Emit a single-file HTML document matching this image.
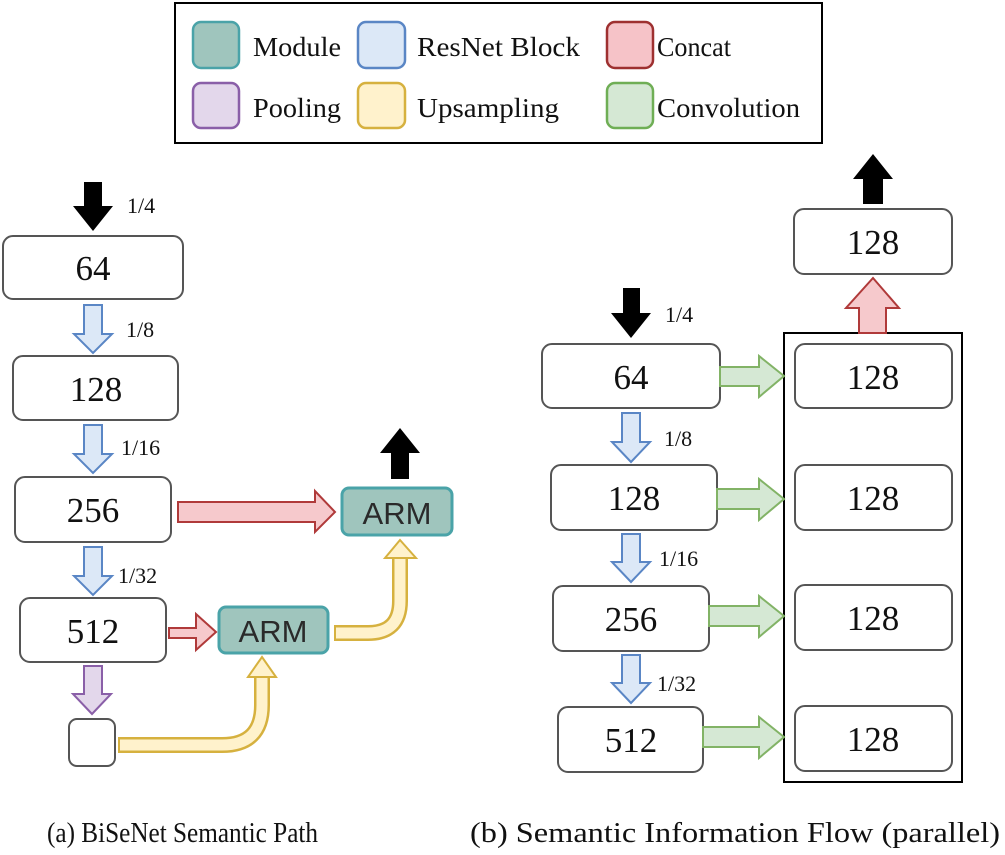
<!DOCTYPE html>
<html><head><meta charset="utf-8"><style>
html,body{margin:0;padding:0;background:#fff;}
svg{display:block;}
.serif{font-family:"Liberation Serif",serif;fill:#111;}
.sans{font-family:"Liberation Sans",sans-serif;fill:#2a2a2a;}
</style></head><body>
<svg width="1005" height="855" viewBox="0 0 1005 855" xmlns="http://www.w3.org/2000/svg">
<!-- Legend -->
<rect x="175" y="3" width="647" height="140" fill="#fff" stroke="#000" stroke-width="2"/>
<g stroke-width="2.5">
<rect x="193" y="22" width="46" height="46" rx="8" fill="#9fc5bd" stroke="#4aa3a8"/>
<rect x="358" y="22" width="47" height="46" rx="8" fill="#dce8f7" stroke="#5a86c5"/>
<rect x="607" y="22" width="46" height="46" rx="8" fill="#f6c3c8" stroke="#9e3030"/>
<rect x="193" y="83" width="46" height="45" rx="8" fill="#e3d7eb" stroke="#8a5fa8"/>
<rect x="358" y="83" width="47" height="45" rx="8" fill="#fff2cc" stroke="#d6b13f"/>
<rect x="607" y="83" width="46" height="45" rx="8" fill="#d5e8d4" stroke="#6fae55"/>
</g>
<g class="serif" font-size="27">
<text x="253" y="56" textLength="88" lengthAdjust="spacingAndGlyphs">Module</text>
<text x="417" y="56" textLength="163" lengthAdjust="spacingAndGlyphs">ResNet Block</text>
<text x="657" y="56" textLength="74" lengthAdjust="spacingAndGlyphs">Concat</text>
<text x="253" y="117" textLength="88" lengthAdjust="spacingAndGlyphs">Pooling</text>
<text x="417" y="117" textLength="142" lengthAdjust="spacingAndGlyphs">Upsampling</text>
<text x="657" y="117" textLength="143" lengthAdjust="spacingAndGlyphs">Convolution</text>
</g>

<!-- LEFT -->
<polygon points="84,182 102,182 102,206 113,206 93,231 73,206 84,206" fill="#000"/>
<text class="serif" x="127" y="213" font-size="22">1/4</text>
<g fill="#fff" stroke="#555" stroke-width="2">
<rect x="3" y="236" width="180" height="63" rx="10"/>
<rect x="13" y="356" width="165" height="64" rx="10"/>
<rect x="15" y="477" width="156" height="65" rx="10"/>
<rect x="20" y="598" width="146" height="64" rx="10"/>
<rect x="69" y="719" width="46" height="47" rx="8"/>
</g>
<g class="serif" font-size="35" text-anchor="middle">
<text x="93" y="280">64</text>
<text x="96" y="401">128</text>
<text x="93" y="522">256</text>
<text x="93" y="643">512</text>
</g>
<g fill="#dce8f7" stroke="#5a86c5" stroke-width="2">
<polygon points="84,305 102,305 102,334 112,334 93,353 74,334 84,334"/>
<polygon points="84,425 102,425 102,454 112,454 93,473 74,454 84,454"/>
<polygon points="84,547 102,547 102,576 112,576 93,595 74,576 84,576"/>
</g>
<polygon points="84,666 102,666 102,694 111,694 92,714 73,694 84,694" fill="#e3d7eb" stroke="#8a5fa8" stroke-width="2"/>
<g class="serif" font-size="22">
<text x="126" y="337">1/8</text>
<text x="121" y="455">1/16</text>
<text x="118" y="583">1/32</text>
</g>
<!-- red arrows -->
<g fill="#f6c9cc" stroke="#b03a3a" stroke-width="2">
<polygon points="178,502 315,502 315,491 335,512 315,532 315,522 178,522"/>
<polygon points="169,628 196,628 196,614 216,632 196,650 196,638 169,638"/>
</g>
<!-- ARM boxes -->
<rect x="342" y="488" width="110" height="47" rx="7" fill="#9fc5bd" stroke="#4aa3a8" stroke-width="3"/>
<rect x="219" y="607" width="109" height="46" rx="7" fill="#9fc5bd" stroke="#4aa3a8" stroke-width="3"/>
<g class="sans" font-size="31" text-anchor="middle">
<text x="397" y="524">ARM</text>
<text x="273" y="642">ARM</text>
</g>
<polygon points="400,428 420,453 409,453 409,479 391,479 391,453 380,453" fill="#000"/>
<!-- yellow bent arrows -->
<g fill="none">
<path d="M118,745 L222,745 Q262,745 262,705 L262,676" stroke="#d6b13f" stroke-width="16"/>
<path d="M120,745 L222,745 Q262,745 262,705 L262,674" stroke="#fff2cc" stroke-width="11"/>
<path d="M334,633 L368,633 Q400,633 400,601 L400,556" stroke="#d6b13f" stroke-width="16"/>
<path d="M336,633 L368,633 Q400,633 400,601 L400,554" stroke="#fff2cc" stroke-width="11"/>
</g>
<g fill="#fff2cc" stroke="#d6b13f" stroke-width="2">
<polygon points="262,657 276,677 248,677"/>
<polygon points="400,540 416,558 385,558"/>
</g>

<!-- RIGHT -->
<rect x="784" y="333" width="178" height="449" fill="none" stroke="#000" stroke-width="2"/>
<polygon points="873,154 893,179 883,179 883,204 863,204 863,179 853,179" fill="#000"/>
<polygon points="623,288 640,288 640,313 651,313 631,338 611,313 623,313" fill="#000"/>
<text class="serif" x="665" y="322" font-size="22">1/4</text>
<polygon points="873,278 899,308 886,308 886,333 859,333 859,308 846,308" fill="#f6c9cc" stroke="#b03a3a" stroke-width="2"/>
<g fill="#fff" stroke="#555" stroke-width="2">
<rect x="794" y="209" width="158" height="65" rx="10"/>
<rect x="795" y="344" width="157" height="64" rx="10"/>
<rect x="795" y="465" width="157" height="65" rx="10"/>
<rect x="795" y="585" width="157" height="65" rx="10"/>
<rect x="795" y="706" width="157" height="65" rx="10"/>
<rect x="542" y="344" width="178" height="64" rx="10"/>
<rect x="551" y="465" width="166" height="65" rx="10"/>
<rect x="553" y="586" width="156" height="65" rx="10"/>
<rect x="558" y="707" width="145" height="65" rx="10"/>
</g>
<g class="serif" font-size="35" text-anchor="middle">
<text x="873" y="254">128</text>
<text x="873" y="389">128</text>
<text x="873" y="510">128</text>
<text x="873" y="630">128</text>
<text x="873" y="751">128</text>
<text x="631" y="389">64</text>
<text x="634" y="510">128</text>
<text x="631" y="631">256</text>
<text x="631" y="752">512</text>
</g>
<g fill="#d5e8d4" stroke="#82b366" stroke-width="2">
<polygon points="720,367 759,367 759,356 784,376 759,397 759,386 720,386"/>
<polygon points="717,489 759,489 759,479 784,499 759,520 759,509 717,509"/>
<polygon points="709,606 759,606 759,596 784,616 759,637 759,626 709,626"/>
<polygon points="703,727 759,727 759,717 784,737 759,758 759,747 703,747"/>
</g>
<g fill="#dce8f7" stroke="#5a86c5" stroke-width="2">
<polygon points="622,413 640,413 640,442 650,442 631,462 612,442 622,442"/>
<polygon points="622,534 640,534 640,562 650,562 631,582 612,562 622,562"/>
<polygon points="622,655 640,655 640,683 650,683 631,703 612,683 622,683"/>
</g>
<g class="serif" font-size="22">
<text x="664" y="446">1/8</text>
<text x="659" y="566">1/16</text>
<text x="657" y="691">1/32</text>
</g>

<!-- captions -->
<g class="serif" font-size="28">
<text x="47" y="842" textLength="271" lengthAdjust="spacingAndGlyphs">(a) BiSeNet Semantic Path</text>
<text x="470" y="842" textLength="530" lengthAdjust="spacingAndGlyphs">(b) Semantic Information Flow (parallel)</text>
</g>
</svg>
</body></html>
